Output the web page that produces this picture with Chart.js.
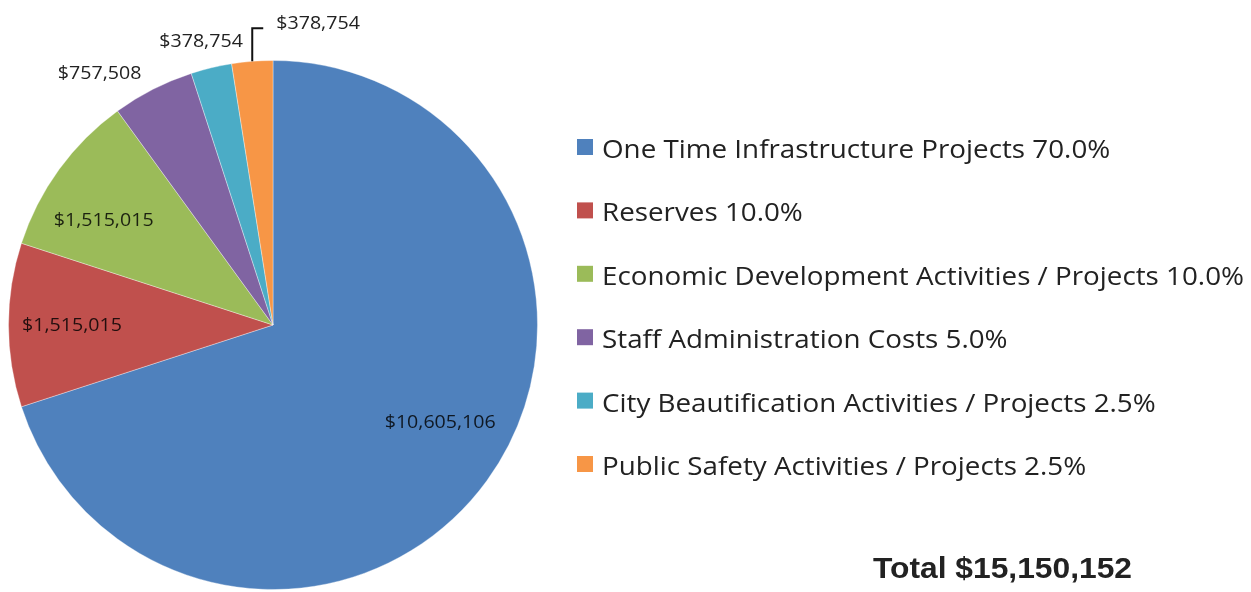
<!DOCTYPE html>
<html>
<head>
<meta charset="utf-8">
<script src="https://cdn.jsdelivr.net/npm/chart.js@4.4.1/dist/chart.umd.min.js"></script>
<style>
  html, body { margin: 0; padding: 0; background: #fff; }
  #wrap { width: 1251px; height: 592px; position: relative; }
</style>
</head>
<body>
<div id="wrap"><canvas id="pieChart"></canvas></div>
<script>
// Datos del gráfico
const categories = [
  'One Time Infrastructure Projects',
  'Reserves',
  'Economic Development Activities / Projects',
  'Staff Administration Costs',
  'City Beautification Activities / Projects',
  'Public Safety Activities / Projects'
];
const amounts = [10605106, 1515015, 1515015, 757508, 378754, 378754];
const sliceColors = ['#4F81BD', '#C0504D', '#9BBB59', '#8064A2', '#4BACC6', '#F79646'];

// Colocación de etiquetas (desplazamiento angular en grados y radio relativo)
const labelShift  = [-6, 0, -4, -7.5, -0.7, 0];
const labelRadius = [0.73, 0.76, 0.755, 1.157, 1.109, null];

const total = amounts.reduce((a, b) => a + b, 0);
const money = v => '$' + v.toLocaleString('en-US');
const pct   = v => (v / total * 100).toFixed(1) + '%';

// texto con escala horizontal
function drawText(ctx, text, x, y, font, sx, color, align) {
  ctx.save();
  ctx.font = font;
  ctx.fillStyle = color;
  ctx.textBaseline = 'alphabetic';
  const w = ctx.measureText(text).width * sx;
  let left = x;
  if (align === 'center') left = x - w / 2;
  ctx.translate(left, y);
  ctx.scale(sx, 1);
  ctx.textAlign = 'left';
  ctx.fillText(text, 0, 0);
  ctx.restore();
}

const sliceLabels = {
  id: 'sliceLabels',
  afterDatasetsDraw(chart) {
    const ctx = chart.ctx;
    const meta = chart.getDatasetMeta(0);
    const size = 18, capH = size * 0.714;
    const font = size + 'px "Open Sans"';
    meta.data.forEach((arc, i) => {
      const p = arc.getProps(['x', 'y', 'startAngle', 'endAngle', 'outerRadius'], true);
      const mid = (p.startAngle + p.endAngle) / 2;
      const text = money(amounts[i]);
      const inside = labelRadius[i] !== null && labelRadius[i] < 1;
      const color = inside ? 'rgba(0,0,0,0.82)' : '#222';
      if (labelRadius[i] !== null) {
        const a = mid + labelShift[i] * Math.PI / 180;
        const r = p.outerRadius * labelRadius[i];
        const cx = p.x + Math.cos(a) * r;
        const cy = p.y + Math.sin(a) * r;
        drawText(ctx, text, cx, cy + capH / 2, font, 1.09, color, 'center');
      } else {
        // línea guía
        const sx0 = p.x + Math.cos(mid) * p.outerRadius;
        const sy0 = p.y + Math.sin(mid) * p.outerRadius;
        const ey = sy0 - 33;
        ctx.save();
        ctx.strokeStyle = '#111';
        ctx.lineWidth = 2;
        ctx.beginPath();
        ctx.moveTo(sx0, sy0);
        ctx.lineTo(sx0, ey);
        ctx.lineTo(sx0 + 11, ey);
        ctx.stroke();
        ctx.restore();
        drawText(ctx, text, sx0 + 24, ey - 6 + capH / 2, font, 1.09, color, 'left');
      }
    });
  }
};

const sideLegend = {
  id: 'sideLegend',
  afterDraw(chart) {
    const ctx = chart.ctx;
    const font = '26px "Open Sans"';
    const items = categories.map((c, i) => c + ' ' + pct(amounts[i]));
    ctx.save();
    ctx.font = font;
    const longest = Math.max(...items.map(t => ctx.measureText(t).width));
    ctx.restore();
    const sx = 642 / longest;
    items.forEach((t, i) => {
      const base = 158 + i * 63.4;
      ctx.fillStyle = sliceColors[i];
      ctx.fillRect(577, base - 19, 16, 16);
      drawText(ctx, t, 602, base, font, sx, '#222', 'left');
    });

    // Total
    const totTxt = 'Total ' + money(total);
    const tFont = 'bold 29px "Liberation Sans", Arial, sans-serif';
    ctx.save();
    ctx.font = tFont;
    const tw = ctx.measureText(totTxt).width;
    ctx.restore();
    drawText(ctx, totTxt, 873, 578, tFont, 259 / tw, '#222', 'left');
  }
};

new Chart(document.getElementById('pieChart'), {
  type: 'pie',
  data: {
    labels: categories,
    datasets: [{
      data: amounts,
      backgroundColor: sliceColors,
      borderColor: 'rgba(255,255,255,0.35)',
      borderWidth: 1
    }]
  },
  options: {
    responsive: true,
    maintainAspectRatio: false,
    animation: false,
    layout: { padding: { left: 8, top: 60, right: 713, bottom: 2 } },
    plugins: {
      legend: { display: false },
      tooltip: { enabled: false }
    }
  },
  plugins: [sliceLabels, sideLegend]
});
</script>
</body>
</html>
